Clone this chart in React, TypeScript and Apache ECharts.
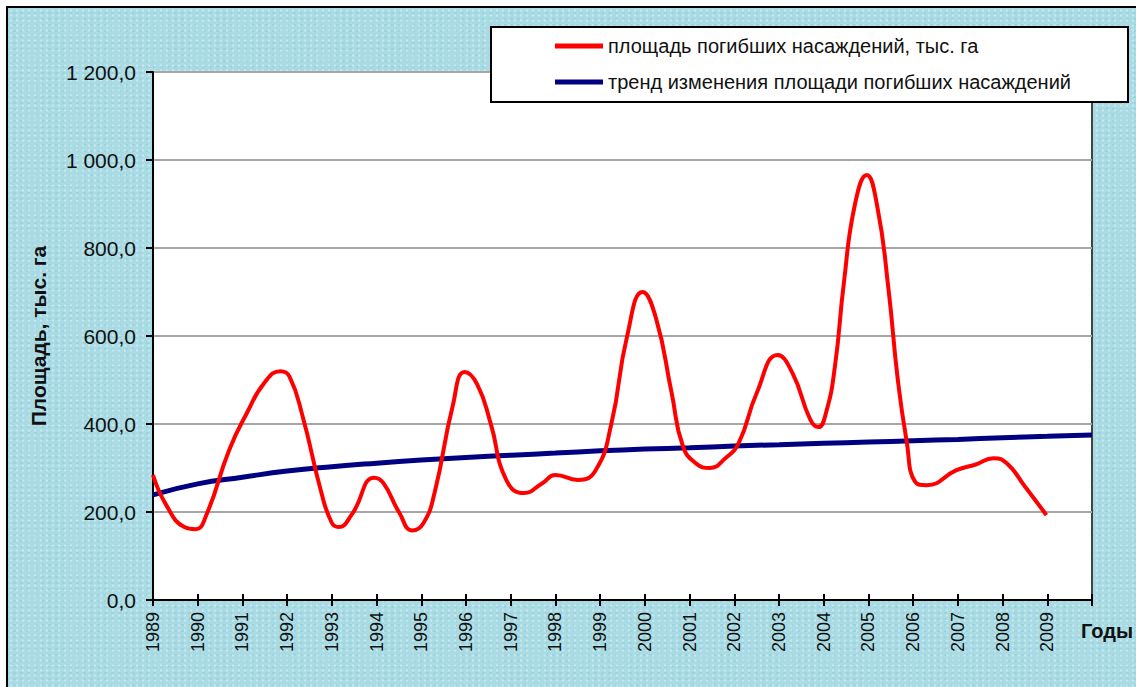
import React, { useEffect, useRef } from "react";
import * as echarts from "echarts";

// Area of dead stands (thousand ha): [year, value]
const redYears = [
  1989.0, 1989.3, 1989.7, 1989.95, 1990.2, 1990.7, 1991.1, 1991.5, 1991.85, 1992.05,
  1992.35, 1992.75, 1993.0, 1993.15, 1993.45, 1993.95, 1994.15, 1994.5, 1994.8, 1995.05,
  1995.3, 1995.7, 1995.97, 1996.25, 1996.55, 1996.9, 1997.3, 1997.7, 1998.0, 1998.5,
  1998.9, 1999.25, 1999.6, 1999.95, 2000.25, 2000.6, 2000.85, 2001.15, 2001.45, 2001.8,
  2002.1, 2002.5, 2002.97, 2003.3, 2003.7, 2003.88, 2004.05, 2004.25, 2004.45, 2004.7,
  2004.96, 2005.2, 2005.45, 2005.65, 2005.85, 2006.05, 2006.3, 2006.97, 2007.4, 2007.8,
  2008.1, 2008.5, 2008.98,
];
const redValues = [
  284, 215, 166, 161, 195, 340, 425, 495, 520, 508,
  416, 250, 175, 166, 195, 278, 266, 200, 158, 175,
  245, 440, 518, 490, 402, 273, 243, 265, 284, 273,
  295, 400, 598, 700, 640, 470, 350, 310, 300, 322,
  357, 470, 557, 516, 410, 393, 425, 530, 720, 900,
  966, 893, 705, 507, 364, 268, 261, 295, 308, 322,
  310, 258, 193,
];

// Trend line, read at each year
const trendYears = [
  1989, 1990, 1991, 1992, 1993, 1994, 1995, 1996, 1997, 1998, 1999,
  2000, 2001, 2002, 2003, 2004, 2005, 2006, 2007, 2008, 2009, 2010,
];
const trendValues = [
  239, 264, 279, 293, 303, 311, 318, 324, 329, 334, 339,
  343, 346, 350, 353, 356, 359, 362, 365, 369, 372, 375,
];

const seriesNames = [
  "площадь погибших насаждений, тыс. га",
  "тренд изменения площади погибших насаждений",
];
const yAxisTitle = "Площадь, тыс. га";
const xAxisTitle = "Годы";
const yMin = 0;
const yMax = 1200;
const yStep = 200;
const xMin = 1989;
const xMax = 2010;
const lastLabelYear = 2009;

const FONT = "Liberation Sans, Arial, sans-serif";

function fmtY(v: number): string {
  const [i, d] = v.toFixed(1).split(".");
  return i.replace(/\B(?=(\d{3})+(?!\d))/g, " ") + "," + d;
}

export default function App() {
  const ref = useRef<HTMLDivElement>(null);
  useEffect(() => {
    if (!ref.current) return;
    const chart = echarts.init(ref.current, undefined, { renderer: "svg" });
    const redData = redYears.map((x, i) => [x, redValues[i]]);
    const trendData = trendYears.map((x, i) => [x, trendValues[i]]);
    chart.setOption({
      animation: false,
      backgroundColor: "transparent",
      grid: {
        left: 153,
        top: 72,
        right: 44,
        bottom: 87,
        show: true,
        backgroundColor: "#ffffff",
        borderColor: "#444444",
        borderWidth: 2,
      },
      legend: {
        data: seriesNames,
        orient: "vertical",
        left: 555,
        top: 36,
        padding: 0,
        itemGap: 16,
        itemWidth: 48,
        itemHeight: 5,
        icon: "rect",
        textStyle: { fontSize: 20, color: "#111", fontFamily: FONT },
      },
      xAxis: [
        {
          type: "value",
          min: xMin,
          max: xMax,
          interval: 1,
          position: "bottom",
          axisLine: { show: true, lineStyle: { color: "#000", width: 2 } },
          axisTick: { show: true, length: 6, lineStyle: { color: "#000", width: 2 } },
          axisLabel: {
            rotate: 90,
            margin: 12,
            fontSize: 18,
            color: "#111",
            fontFamily: FONT,
            formatter: (v: number) => (v > lastLabelYear ? "" : String(v)),
          },
          splitLine: { show: false },
        },
        {
          type: "value",
          min: xMin,
          max: xMax,
          interval: 1,
          position: "bottom",
          axisLine: { show: false },
          axisTick: { show: true, inside: true, length: 6, lineStyle: { color: "#000", width: 2 } },
          axisLabel: { show: false },
          splitLine: { show: false },
        },
      ],
      yAxis: {
        type: "value",
        min: yMin,
        max: yMax,
        interval: yStep,
        name: yAxisTitle,
        nameLocation: "middle",
        nameGap: 104,
        nameTextStyle: { fontSize: 21, fontWeight: "bold", color: "#111", fontFamily: FONT },
        axisLine: { show: true, lineStyle: { color: "#000", width: 2 } },
        axisTick: { show: true, length: 7, lineStyle: { color: "#000", width: 2 } },
        axisLabel: { margin: 17, fontSize: 21, color: "#111", fontFamily: FONT, formatter: fmtY },
        splitLine: { show: true, lineStyle: { color: "#a6a6a6", width: 2 } },
      },
      graphic: [
        {
          type: "rect",
          z: 3,
          shape: { x: 491, y: 27, width: 637, height: 75 },
          style: { fill: "#ffffff", stroke: "#000", lineWidth: 2 },
        },
        {
          type: "text",
          z: 3,
          x: 1081,
          y: 621,
          style: { text: xAxisTitle, font: `bold 20px ${FONT}`, fill: "#111" },
        },
      ],
      series: [
        {
          name: seriesNames[0],
          type: "line",
          data: redData,
          smooth: 0.5,
          showSymbol: false,
          symbol: "none",
          lineStyle: { color: "#ff0000", width: 4 },
          itemStyle: { color: "#ff0000" },
          z: 3,
        },
        {
          name: seriesNames[1],
          type: "line",
          data: trendData,
          smooth: true,
          showSymbol: false,
          symbol: "none",
          lineStyle: { color: "#000080", width: 5 },
          itemStyle: { color: "#000080" },
          z: 2,
        },
      ],
    });
    return () => chart.dispose();
  }, []);

  return (
    <div
      style={{
        position: "fixed",
        left: 0,
        top: 0,
        width: 1136,
        height: 687,
        overflow: "hidden",
        background: "#ffffff",
      }}
    >
      <div
        style={{
          position: "absolute",
          left: 6,
          top: 6,
          width: 1200,
          height: 800,
          border: "2px solid #000",
          backgroundColor: "#a9dbe4",
          backgroundImage:
            "radial-gradient(rgba(255,255,255,0.35) 1px, transparent 1.6px), radial-gradient(rgba(110,175,190,0.22) 1px, transparent 1.6px)",
          backgroundSize: "6px 5px, 7px 6px",
          backgroundPosition: "0 0, 3px 2px",
        }}
      />
      <div ref={ref} style={{ position: "absolute", left: 0, top: 0, width: 1136, height: 687 }} />
    </div>
  );
}
